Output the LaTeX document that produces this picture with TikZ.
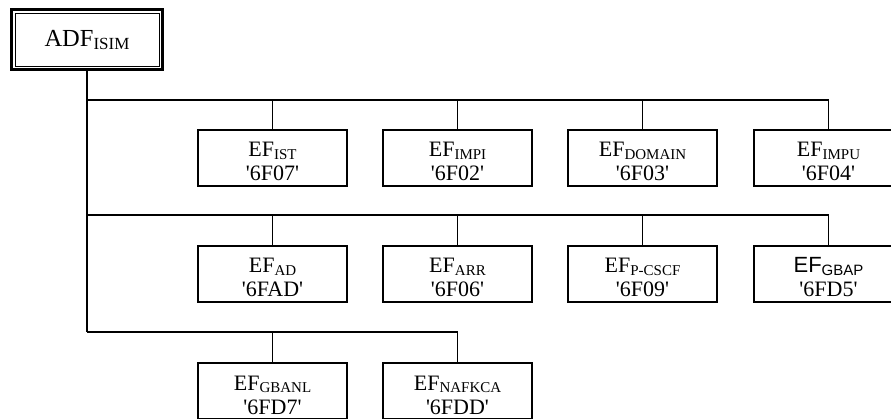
\documentclass[tikz,border=0pt]{standalone}
\usepackage{fontspec}
\setmainfont{Liberation Serif}
\newfontfamily\arialf{Liberation Sans}
\newcommand{\sbs}[1]{\raisebox{-2.5pt}{\fontsize{15}{15}\selectfont #1}}
\newcommand{\rsbs}[1]{\raisebox{-3pt}{\fontsize{17}{17}\selectfont #1}}
\newcommand{\q}{\textquotesingle}
\begin{document}
\begin{tikzpicture}[x=1pt,y=-1pt,
  efbox/.style={draw,line width=1.8pt,minimum width=149.2pt,minimum height=56.2pt,
    inner sep=0pt,align=center,text height=46pt,text depth=0pt,font=\fontsize{22}{24}\selectfont},
  rootbox/.style={draw,line width=3pt,minimum width=151pt,minimum height=60pt,
    inner sep=0pt,font=\fontsize{24.5}{26}\selectfont},
  link/.style={line width=1.8pt}]
\useasboundingbox (0,0) rectangle (891,419);
\clip (0,0) rectangle (891,419);
\node[rootbox] (root) at (87,40) {ADF\rsbs{ISIM}};
\draw[line width=1pt] ([shift={(5pt,-5pt)}]root.north west) rectangle ([shift={(-5pt,5pt)}]root.south east);
% row 1
\node[efbox] (ist)    at (272.5,158) {EF\sbs{IST}\\\q6F07\q};
\node[efbox] (impi)   at (457.5,158) {EF\sbs{IMPI}\\\q6F02\q};
\node[efbox] (domain) at (642.5,158) {EF\sbs{DOMAIN}\\\q6F03\q};
\node[efbox] (impu)   at (828.5,158) {EF\sbs{IMPU}\\\q6F04\q};
% row 2
\node[efbox] (ad)     at (272.5,274) {EF\sbs{AD}\\\q6FAD\q};
\node[efbox] (arr)    at (457.5,274) {EF\sbs{ARR}\\\q6F06\q};
\node[efbox] (pcscf)  at (642.5,274) {EF\sbs{P-CSCF}\\\q6F09\q};
\node[efbox] (gbap)   at (828.5,274) {{\arialf EF\sbs{GBAP}}\\\q6FD5\q};
% row 3
\node[efbox] (gbanl)  at (272.5,391) {EF\sbs{GBANL}\\\q6FD7\q};
\node[efbox] (nafkca) at (457.5,391) {EF\sbs{NAFKCA}\\\q6FDD\q};
% buses
\coordinate (t1) at (87,100);
\coordinate (t2) at (87,215);
\coordinate (t3) at (87,332);
\draw[link] (root.south) -- (t3);
\draw[link] (t1) -| (impu.north);
\draw[link] (t2) -| (gbap.north);
\draw[link] (t3) -| (nafkca.north);
\foreach \n/\t in {ist/t1,impi/t1,domain/t1,ad/t2,arr/t2,pcscf/t2,gbanl/t3}
  \draw[link] (\n.north) -- (\n.north |- \t);
\end{tikzpicture}
\end{document}
